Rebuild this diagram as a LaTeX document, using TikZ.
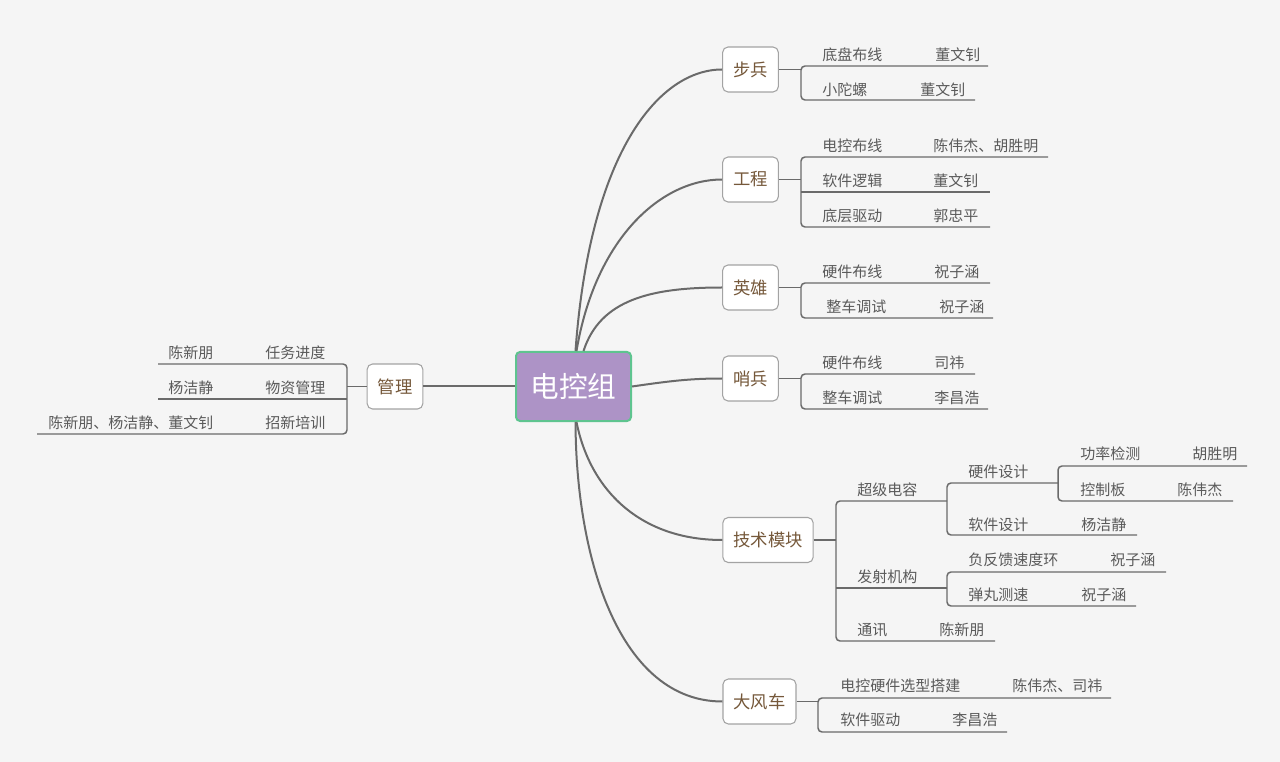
\documentclass[tikz,border=0pt]{standalone}
\usepackage{fontspec}
\newfontfamily\cjk{Noto Sans CJK SC}
\usetikzlibrary{calc}
\definecolor{bgc}{HTML}{F5F5F5}
\definecolor{linec}{HTML}{6A6A6A}
\definecolor{boxc}{HTML}{A3A3A3}
\definecolor{brown}{HTML}{75583A}
\definecolor{leafc}{HTML}{5A5A5A}
\definecolor{ctrfill}{HTML}{AD93C6}
\definecolor{ctrdraw}{HTML}{5EC48F}
\tikzset{
  ctrbox/.style={draw=ctrdraw, line width=1.5pt, fill=ctrfill, rounded corners=3pt,
    minimum width=115*0.75pt, minimum height=69*0.75pt, inner sep=0pt,
    text=white, font=\cjk\fontsize{21.5}{24}\selectfont},
  topic/.style={draw=boxc, line width=0.8pt, fill=white, rounded corners=4pt,
    minimum height=45*0.75pt, inner xsep=10.5*0.75pt, inner ysep=0pt,
    text=brown, font=\cjk\fontsize{13}{15}\selectfont},
  leaf/.style={anchor=west, inner sep=0pt, text=leafc, font=\cjk\fontsize{11.25}{13}\selectfont},
  curve/.style={draw=linec, line width=1.5pt},
  stub/.style={draw=linec, line width=1.4pt},
  br/.style={draw=linec, line width=1.1pt, rounded corners=3pt},
  mid/.style={draw=linec, line width=0.85pt},
}
\begin{document}
\begin{tikzpicture}[x=0.75pt,y=-0.75pt]
\useasboundingbox[fill=bgc] (0,0) rectangle (1280,762);

% center and topics
\node[ctrbox] (ctr) at (573.5,386.5) {电控组};
\node[topic] (bb) at (750.5,69.5) {步兵};
\node[topic] (gc) at (750.5,179.5) {工程};
\node[topic] (yx) at (750.5,287.5) {英雄};
\node[topic] (sb) at (750.5,378.5) {哨兵};
\node[topic] (js) at (768,540) {技术模块};
\node[topic] (df) at (759.5,701.5) {大风车};
\node[topic] (gl) at (395,386.5) {管理};

% main curves
\draw[curve] ($(ctr.north)+(2,0)$) .. controls (590,150) and (660,69.5) .. (bb.west);
\draw[curve] ($(ctr.north)+(3,0)$) .. controls (595,240) and (660,179.5) .. (gc.west);
\draw[curve] ($(ctr.north)+(10,0)$) .. controls (600,300) and (650,287.5) .. (yx.west);
\draw[curve] (ctr.east) .. controls (670,381) and (690,378.5) .. (sb.west);
\draw[curve] ($(ctr.south)+(3,0)$) .. controls (590,490) and (640,540) .. (js.west);
\draw[curve] ($(ctr.south)+(2,0)$) .. controls (576,560) and (620,701.5) .. (df.west);
\draw[curve] (ctr.west) -- (gl.east);

% 步兵
\coordinate (bbk) at (801,69.5);
\draw[stub] (bb.east) -- (bbk);
\draw[br] (988,66) -- (801,66) -- (801,100) -- (975,100);
\node[leaf] (bb1) at (822,55) {底盘布线};
\node[leaf] (bb1p) at (935,55) {董文钊};
\node[leaf] (bb2) at (822,90) {小陀螺};
\node[leaf] (bb2p) at (920,90) {董文钊};

% 工程
\coordinate (gck) at (801,179.5);
\draw[stub] (gc.east) -- (gck);
\draw[br] (1048,157) -- (801,157) -- (801,227) -- (990,227);
\draw[mid] (801,192) -- (990,192);
\node[leaf] (gc1) at (822,146) {电控布线};
\node[leaf] (gc1p) at (933,146) {陈伟杰、胡胜明};
\node[leaf] (gc2) at (822,181) {软件逻辑};
\node[leaf] (gc2p) at (933,181) {董文钊};
\node[leaf] (gc3) at (822,216) {底层驱动};
\node[leaf] (gc3p) at (933,216) {郭忠平};

% 英雄
\coordinate (yxk) at (801,287.5);
\draw[stub] (yx.east) -- (yxk);
\draw[br] (990,283) -- (801,283) -- (801,318) -- (993,318);
\node[leaf] (yx1) at (822,272) {硬件布线};
\node[leaf] (yx1p) at (934,272) {祝子涵};
\node[leaf] (yx2) at (826,307) {整车调试};
\node[leaf] (yx2p) at (939,307) {祝子涵};

% 哨兵
\coordinate (sbk) at (801,378.5);
\draw[stub] (sb.east) -- (sbk);
\draw[br] (975,374) -- (801,374) -- (801,409) -- (988,409);
\node[leaf] (sb1) at (822,363) {硬件布线};
\node[leaf] (sb1p) at (934,363) {司祎};
\node[leaf] (sb2) at (822,398) {整车调试};
\node[leaf] (sb2p) at (934,398) {李昌浩};

% 技术模块
\coordinate (jsk) at (836,540);
\draw[stub] (js.east) -- (jsk);
\draw[br] (947,501) -- (836,501) -- (836,641) -- (995,641);
\draw[mid] (836,588) -- (947,588);
\node[leaf] (cj) at (857,490) {超级电容};
\node[leaf] (fs) at (857,577) {发射机构};
\node[leaf] (tx) at (857,630) {通讯};
\node[leaf] (txp) at (939,630) {陈新朋};
% 超级电容
\draw[br] (1058,483) -- (947,483) -- (947,535) -- (1137,535);
\node[leaf] (yj) at (968,472) {硬件设计};
\node[leaf] (rj) at (968,525) {软件设计};
\node[leaf] (rjp) at (1081,525) {杨洁静};
% 硬件设计
\draw[br] (1247,466) -- (1058,466) -- (1058,501) -- (1233,501);
\node[leaf] (gl1) at (1080,454) {功率检测};
\node[leaf] (gl1p) at (1192,454) {胡胜明};
\node[leaf] (kz) at (1080,490) {控制板};
\node[leaf] (kzp) at (1177,490) {陈伟杰};
% 发射机构
\draw[br] (1166,572) -- (947,572) -- (947,606) -- (1136,606);
\node[leaf] (ff) at (968,560) {负反馈速度环};
\node[leaf] (ffp) at (1110,560) {祝子涵};
\node[leaf] (dw) at (968,595) {弹丸测速};
\node[leaf] (dwp) at (1081,595) {祝子涵};

% 大风车
\coordinate (dfk) at (818,701.5);
\draw[stub] (df.east) -- (dfk);
\draw[br] (1111,698) -- (818,698) -- (818,732) -- (1007,732);
\node[leaf] (df1) at (840,686) {电控硬件选型搭建};
\node[leaf] (df1p) at (1012,686) {陈伟杰、司祎};
\node[leaf] (df2) at (840,720) {软件驱动};
\node[leaf] (df2p) at (952,720) {李昌浩};

% 管理
\coordinate (glk) at (347,386.5);
\draw[stub] (gl.west) -- (glk);
\draw[br] (158,364) -- (347,364) -- (347,434) -- (37,434);
\draw[mid] (347,399) -- (158,399);
\node[leaf] (m1) at (265,353) {任务进度};
\node[leaf] (m1p) at (168,353) {陈新朋};
\node[leaf] (m2) at (265,388) {物资管理};
\node[leaf] (m2p) at (168,388) {杨洁静};
\node[leaf] (m3) at (265,423) {招新培训};
\node[leaf] (m3p) at (48,423) {陈新朋、杨洁静、董文钊};
\end{tikzpicture}
\end{document}
